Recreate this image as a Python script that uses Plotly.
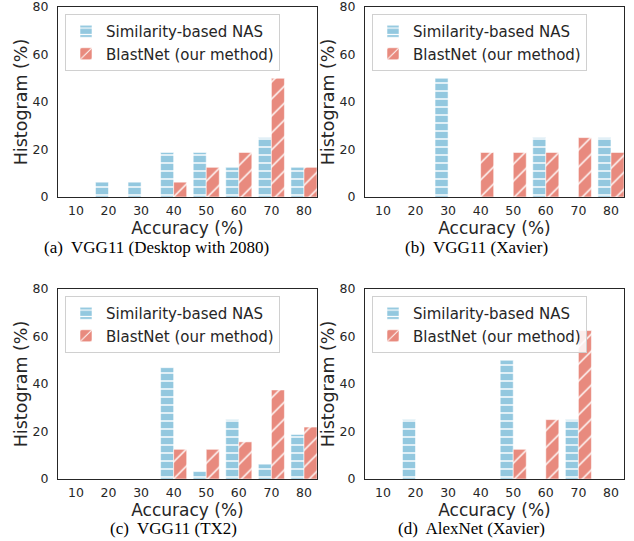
import plotly.graph_objects as go

categories = ["10", "20", "30", "40", "50", "60", "70", "80"]

# panel (a) VGG11 (Desktop with 2080)
a_nas = [0, 6.25, 6.25, 18.75, 18.75, 12.5, 25, 12.5]
a_blast = [0, 0, 0, 6.25, 12.5, 18.75, 50, 12.5]
# panel (b) VGG11 (Xavier)
b_nas = [0, 0, 50, 0, 0, 25, 0, 25]
b_blast = [0, 0, 0, 18.75, 18.75, 18.75, 25, 18.75]
# panel (c) VGG11 (TX2)
c_nas = [0, 0, 0, 46.875, 3.125, 25, 6.25, 18.75]
c_blast = [0, 0, 0, 12.5, 12.5, 15.625, 37.5, 21.875]
# panel (d) AlexNet (Xavier)
d_nas = [0, 25, 0, 0, 50, 0, 25, 0]
d_blast = [0, 0, 0, 0, 12.5, 25, 62.5, 0]

captions = ["(a)  VGG11 (Desktop with 2080)", "(b)  VGG11 (Xavier)",
            "(c)  VGG11 (TX2)", "(d)  AlexNet (Xavier)"]
series_names = ["Similarity-based NAS", "BlastNet (our method)"]
y_ticks = [0, 20, 40, 60, 80]

BLUE = "#93c8df"
RED = "#e88a7e"
DARK = "#262626"
W, H = 634, 541

panels = [(a_nas, a_blast), (b_nas, b_blast), (c_nas, c_blast), (d_nas, d_blast)]
# plot-area pixel boxes: (left, right, top, bottom)
boxes = [(58, 317, 7, 197), (365, 624, 7, 197), (58, 317, 289, 479), (365, 624, 289, 479)]
cap_pos = [(156, 247), (476, 247), (173, 528), (471, 528)]

fig = go.Figure()
for i, ((nas, blast), box) in enumerate(zip(panels, boxes)):
    k = i + 1
    xa = "x" if k == 1 else f"x{k}"
    ya = "y" if k == 1 else f"y{k}"
    lg = "legend" if k == 1 else f"legend{k}"
    fig.add_trace(go.Bar(
        x=categories, y=nas, name=series_names[0], xaxis=xa, yaxis=ya, legend=lg,
        legendgroup=f"nas{k}",
        marker=dict(color=BLUE, line=dict(color="rgba(255,255,255,0.55)", width=1),
                    pattern=dict(shape="-", fgcolor="white", bgcolor=BLUE,
                                 fillmode="replace", size=8, solidity=0.18)),
        hoverinfo="skip"))
    fig.add_trace(go.Bar(
        x=categories, y=blast, name=series_names[1], xaxis=xa, yaxis=ya, legend=lg,
        legendgroup=f"blast{k}",
        marker=dict(color=RED, line=dict(color="rgba(255,255,255,0.55)", width=1),
                    pattern=dict(shape="/", fgcolor="white", bgcolor=RED,
                                 fillmode="replace", size=12, solidity=0.12)),
        hoverinfo="skip"))

layout = dict(
    width=W, height=H, margin=dict(l=0, r=0, t=0, b=0, autoexpand=False),
    paper_bgcolor="white", plot_bgcolor="white",
    barmode="group", bargap=0.2, bargroupgap=0,
    font=dict(family="DejaVu Sans", color=DARK, size=12),
    showlegend=True,
)
annotations = []
for i, box in enumerate(boxes):
    k = i + 1
    l, r, t, b = box
    xkey = "xaxis" if k == 1 else f"xaxis{k}"
    ykey = "yaxis" if k == 1 else f"yaxis{k}"
    ya = "y" if k == 1 else f"y{k}"
    xa = "x" if k == 1 else f"x{k}"
    layout[xkey] = dict(
        domain=[l / W, r / W], anchor=ya, type="category", automargin=False,
        range=[-0.55, 7.4], showgrid=False, zeroline=False,
        showline=True, mirror=True, linecolor=DARK, linewidth=1.2,
        ticks="", ticklabelstandoff=2, tickfont=dict(size=12.5, color=DARK),
        ticklabeloverflow="allow",
        title=dict(text="Accuracy (%)", font=dict(size=17, color=DARK), standoff=1),
        fixedrange=True)
    layout[ykey] = dict(
        domain=[1 - b / H, 1 - t / H], anchor=xa, automargin=False,
        range=[0, 80], tickvals=y_ticks, showgrid=False, zeroline=False,
        showline=True, mirror=True, linecolor=DARK, linewidth=1.2,
        ticks="", ticklabelstandoff=6, tickfont=dict(size=12.5, color=DARK),
        ticklabeloverflow="allow",
        title=dict(text="Histogram (%)", font=dict(size=17.5, color=DARK), standoff=0),
        fixedrange=True)
    lg = "legend" if k == 1 else f"legend{k}"
    layout[lg] = dict(
        x=(l + 7) / W, y=1 - (t + 7) / H, xanchor="left", yanchor="top",
        bgcolor="rgba(255,255,255,0.85)", bordercolor="#d0d0d0", borderwidth=1,
        font=dict(size=15, color=DARK), itemwidth=30, tracegroupgap=0)
    cx, cy = cap_pos[i]
    annotations.append(dict(
        text=captions[i], x=cx / W, y=1 - cy / H, xref="paper", yref="paper",
        xanchor="center", yanchor="middle", showarrow=False,
        font=dict(family="Liberation Serif", size=17, color="black")))
layout["annotations"] = annotations
fig.update_layout(**layout)
fig.write_html("out.html")
